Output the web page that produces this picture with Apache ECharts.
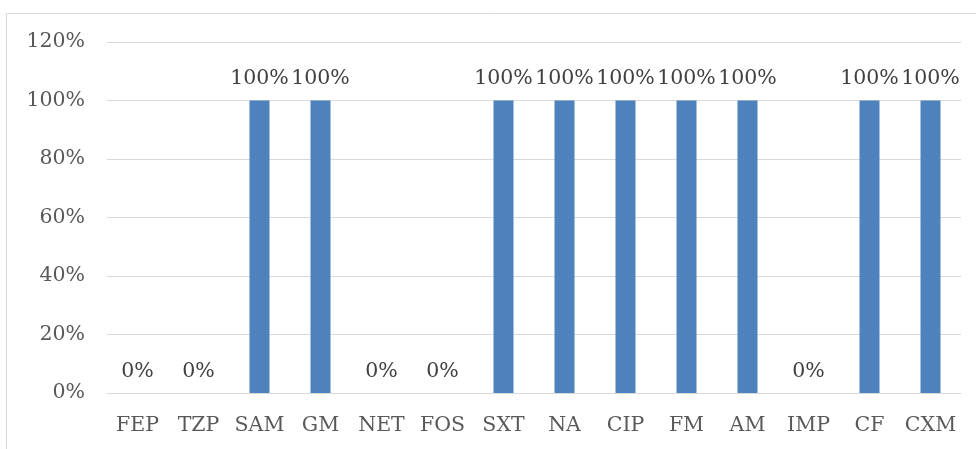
<!DOCTYPE html>
<html>
<head>
<meta charset="utf-8">
<script src="https://cdn.jsdelivr.net/npm/echarts@6/dist/echarts.min.js"></script>
<style>
  html, body { margin: 0; padding: 0; background: #ffffff; }
  #chart { width: 976px; height: 449px; }
</style>
</head>
<body>
<div id="chart"></div>
<script>
// Antibiotic categories along the x axis
var categories = ['FEP', 'TZP', 'SAM', 'GM', 'NET', 'FOS', 'SXT', 'NA', 'CIP', 'FM', 'AM', 'IMP', 'CF', 'CXM'];
// Share per category, in percent
var values = [0, 0, 100, 100, 0, 0, 100, 100, 100, 100, 100, 0, 100, 100];
// Value axis range and step, in percent
var yMin = 0;
var yMax = 120;
var yStep = 20;

var FONT = 'DejaVu Serif';
var SIZE = 20.5;
var chart = echarts.init(document.getElementById('chart'), null, { renderer: 'canvas' });

chart.setOption({
  animation: false,
  backgroundColor: '#ffffff',
  graphic: [{
    type: 'rect',
    shape: { x: 6.5, y: 13.5, width: 990, height: 460 },
    style: { fill: 'none', stroke: '#d9d9d9', lineWidth: 1 },
    silent: true
  }],
  grid: { left: 107, right: 15, top: 42, bottom: 56 },
  xAxis: {
    type: 'category',
    data: categories,
    axisLine: { show: true, lineStyle: { color: '#d9d9d9', width: 1 } },
    axisTick: { show: false },
    axisLabel: { color: '#595959', fontFamily: FONT, fontSize: SIZE, margin: 22, interval: 0 },
    splitLine: { show: false }
  },
  yAxis: {
    type: 'value',
    min: yMin,
    max: yMax,
    interval: yStep,
    axisLine: { show: false },
    axisTick: { show: false },
    axisLabel: {
      color: '#595959', fontFamily: FONT, fontSize: SIZE, margin: 22,
      formatter: function (v) { return v + '%'; }
    },
    splitLine: { show: true, lineStyle: { color: '#d9d9d9', width: 1 } }
  },
  series: [{
    type: 'bar',
    data: values,
    barWidth: 20,
    itemStyle: { color: '#4f81bd' },
    label: {
      show: true,
      position: 'top',
      distance: 11,
      color: '#404040',
      fontFamily: FONT,
      fontSize: SIZE,
      formatter: function (p) { return p.value + '%'; }
    }
  }]
});
</script>
</body>
</html>
